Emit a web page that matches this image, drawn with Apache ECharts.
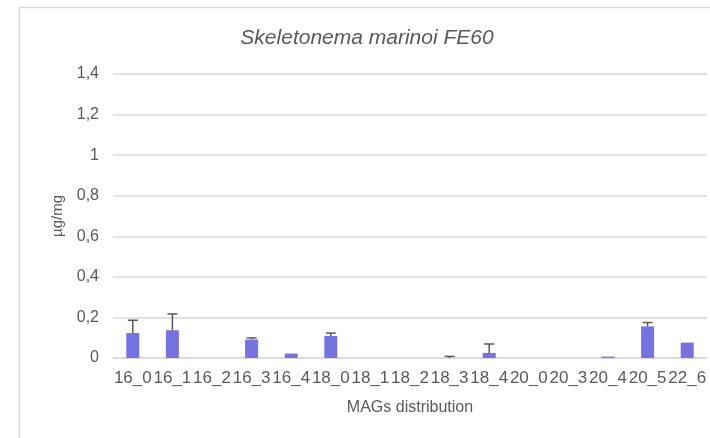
<!DOCTYPE html>
<html>
<head>
<meta charset="utf-8">
<script src="https://cdn.jsdelivr.net/npm/echarts@6/dist/echarts.min.js"></script>
<style>
  html, body { margin: 0; padding: 0; background: #fff; }
  #chart { width: 710px; height: 438px; }
</style>
</head>
<body>
<div id="chart"></div>
<script>
const categories = ["16_0", "16_1", "16_2", "16_3", "16_4", "18_0", "18_1", "18_2", "18_3", "18_4", "20_0", "20_3", "20_4", "20_5", "22_6"];
const values = [0.123, 0.137, 0, 0.091, 0.022, 0.109, 0, 0, 0, 0.025, 0, 0, 0.007, 0.156, 0.076];
// top of the (upper) error bar, null = none drawn
const errorTop = [0.186, 0.217, null, 0.099, null, 0.123, null, null, 0.008, 0.069, null, null, null, 0.175, null];
const yTicks = [0, 0.2, 0.4, 0.6, 0.8, 1, 1.2, 1.4];

const font = "Liberation Sans, Arial, sans-serif";
const chart = echarts.init(document.getElementById("chart"), null, { renderer: "canvas" });

const errData = categories
  .map((c, i) => [i, values[i], errorTop[i]])
  .filter((d) => d[2] !== null);

chart.setOption({
  animation: false,
  graphic: [{
    type: "rect",
    shape: { x: 19.5, y: 7.5, width: 800, height: 500 },
    style: { fill: "none", stroke: "#d9d9d9", lineWidth: 1.5 },
    silent: true,
  }],
  title: {
    text: "Skeletonema marinoi FE60",
    left: 362,
    top: 23,
    textAlign: "center",
    textStyle: { fontFamily: font, fontStyle: "italic", fontWeight: "normal", fontSize: 21, color: "#595959" },
  },
  grid: { left: 113, right: 3, top: 74, bottom: 80 },
  xAxis: {
    type: "category",
    data: categories,
    name: "MAGs distribution",
    nameLocation: "middle",
    nameGap: 42,
    nameTextStyle: { fontFamily: font, fontSize: 16, color: "#595959" },
    axisLine: { lineStyle: { color: "#d9d9d9", width: 1.5 } },
    axisTick: { show: false },
    axisLabel: { interval: 0, margin: 12, fontFamily: font, fontSize: 17, color: "#595959" },
  },
  yAxis: {
    type: "value",
    min: 0,
    max: 1.4,
    interval: 0.2,
    name: "µg/mg",
    nameLocation: "middle",
    nameGap: 47,
    nameTextStyle: { fontFamily: font, fontSize: 15, color: "#595959" },
    axisLine: { show: false },
    axisTick: { show: false },
    axisLabel: {
      margin: 14,
      fontFamily: font,
      fontSize: 16,
      color: "#595959",
      formatter: (v) => {
        const t = yTicks.find((x) => Math.abs(x - v) < 1e-6);
        return String(t !== undefined ? t : v).replace(".", ",");
      },
    },
    splitLine: { lineStyle: { color: "#d9d9d9", width: 1.5 } },
  },
  series: [
    {
      type: "bar",
      data: values,
      barWidth: 13,
      itemStyle: { color: "#7672df" },
    },
    {
      type: "custom",
      data: errData,
      z: 3,
      renderItem: (params, api) => {
        const x = api.value(0);
        const base = api.coord([x, api.value(1)]);
        const top = api.coord([x, api.value(2)]);
        const style = { stroke: "#595959", lineWidth: 1.5 };
        return {
          type: "group",
          children: [
            { type: "line", shape: { x1: base[0], y1: base[1], x2: top[0], y2: top[1] }, style },
            { type: "line", shape: { x1: top[0] - 5, y1: top[1], x2: top[0] + 5, y2: top[1] }, style },
          ],
        };
      },
    },
  ],
});
</script>
</body>
</html>
